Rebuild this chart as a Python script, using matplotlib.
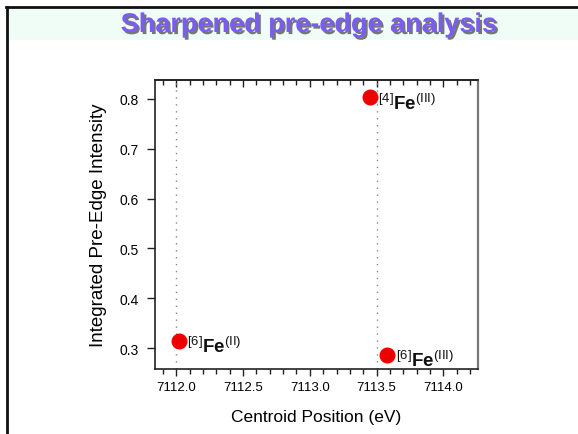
import matplotlib
matplotlib.use("Agg")
import matplotlib.pyplot as plt
import matplotlib.patheffects as pe
from matplotlib.patches import Rectangle
from matplotlib.lines import Line2D
from matplotlib.ticker import MultipleLocator

plt.rcParams["font.family"] = ["Liberation Sans", "DejaVu Sans"]
plt.rcParams["mathtext.fontset"] = "custom"
plt.rcParams["mathtext.rm"] = "Liberation Sans"
plt.rcParams["mathtext.it"] = "Liberation Sans"
plt.rcParams["mathtext.bf"] = "Liberation Sans:bold"

# Pre-edge centroid data for Fe reference sites
centroid = [7112.02, 7113.45, 7113.58]
intensity = [0.315, 0.803, 0.287]
site_labels = [r"$^{[6]}\mathbf{Fe}^{(II)}$",
               r"$^{[4]}\mathbf{Fe}^{(III)}$",
               r"$^{[6]}\mathbf{Fe}^{(III)}$"]
guide_positions = [7112.0, 7113.5]
x_ticks = [7112.0, 7112.5, 7113.0, 7113.5, 7114.0]
y_ticks = [0.3, 0.4, 0.5, 0.6, 0.7, 0.8]

fig = plt.figure(figsize=(5.78, 4.35), dpi=100)
fig.patch.set_facecolor("white")

# Slide frame and title band
fig.add_artist(Rectangle((8 / 578, 1 - 41 / 435), 1, 32 / 435,
                         transform=fig.transFigure, facecolor="#effdf6",
                         edgecolor="none", zorder=0))
fig.add_artist(Line2D([6 / 578, 1], [1 - 7.5 / 435, 1 - 7.5 / 435],
                      transform=fig.transFigure, color="#111111", lw=2.0))
fig.add_artist(Line2D([6.5 / 578, 6.5 / 578], [0, 1 - 7.5 / 435],
                      transform=fig.transFigure, color="#111111", lw=2.0))

fig.text(0.534, 1 - 26 / 435, "Sharpened pre-edge analysis",
         ha="center", va="center", fontsize=19.5, fontweight="bold",
         color="#7b5cf0",
         path_effects=[pe.withSimplePatchShadow(offset=(1.5, -1.5),
                                                shadow_rgbFace="#555555",
                                                alpha=0.8)])

ax = fig.add_axes([155 / 578, 1 - 370 / 435, 323 / 578, 289 / 435])

for xv in guide_positions:
    ax.axvline(xv, color="#888888", lw=1.0, ls=(0, (1, 4)), zorder=1)

ax.plot(centroid, intensity, "o", color="#ee0000", ms=10.5,
        mec="#ee0000", zorder=3)

for xv, yv, lab in zip(centroid, intensity, site_labels):
    ax.annotate(lab, (xv, yv), xytext=(6, -8.5), textcoords="offset points",
                ha="left", va="baseline", fontsize=13.5, color="#111111")

ax.set_xlim(7111.84, 7114.26)
ax.set_ylim(0.258, 0.838)
ax.set_xticks(x_ticks)
ax.set_xticklabels([f"{v:.1f}" for v in x_ticks])
ax.set_yticks(y_ticks)
ax.set_yticklabels([f"{v:.1f}" for v in y_ticks])
ax.xaxis.set_minor_locator(MultipleLocator(0.1))

ax.tick_params(axis="x", which="both", direction="out", labelsize=9.5,
               color="#222222", pad=4)
ax.tick_params(axis="x", which="major", length=5, width=1.0)
ax.tick_params(axis="x", which="minor", length=3.5, width=1.0)
ax.tick_params(axis="y", which="major", direction="out", length=5.5,
               width=1.0, labelsize=10, pad=6, color="#222222")
ax.tick_params(axis="y", which="minor", left=False)

# Inward ticks along the top edge
top = ax.secondary_xaxis("top")
top.set_xticks(x_ticks)
top.xaxis.set_minor_locator(MultipleLocator(0.1))
top.tick_params(axis="x", which="both", direction="in", labeltop=False,
                color="#222222", width=1.0)
top.tick_params(axis="x", which="major", length=5)
top.tick_params(axis="x", which="minor", length=3.5)
top.spines["top"].set_linewidth(1.2)
top.spines["top"].set_color("#222222")

for sp in ax.spines.values():
    sp.set_linewidth(1.2)
    sp.set_color("#222222")
ax.spines["right"].set_color("#777777")
ax.spines["right"].set_linewidth(1.6)

ax.set_xlabel("Centroid Position (eV)", fontsize=12.5)
ax.xaxis.set_label_coords(0.5, -0.14)
ax.set_ylabel("Integrated Pre-Edge Intensity", fontsize=13.5)
ax.yaxis.set_label_coords(-0.15, 0.5)

fig.savefig("out.png", dpi=100)
